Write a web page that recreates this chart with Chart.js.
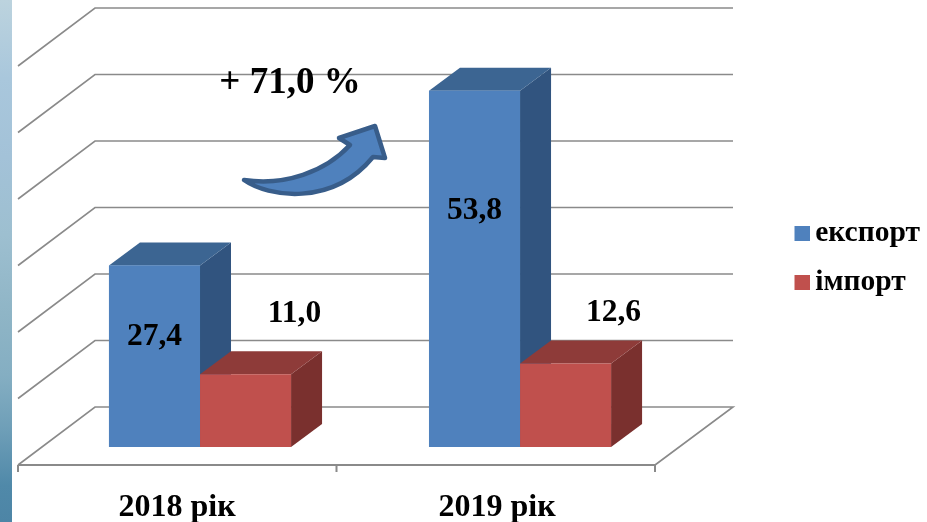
<!DOCTYPE html>
<html lang="uk">
<head>
<meta charset="utf-8">
<title>Експорт та імпорт</title>
<script src="https://cdn.jsdelivr.net/npm/chart.js@4"></script>
<style>
html,body{margin:0;padding:0;background:#fff;width:927px;height:522px;overflow:hidden}
#strip{position:absolute;left:0;top:0;width:12px;height:522px;background:linear-gradient(180deg,#bcd3de 0%,#a9c7dc 15%,#a3c2d8 30%,#9dbfd0 45%,#8fb5c6 60%,#84aec2 72%,#6f9fb8 82%,#5089a9 93%,#4d85a6 100%)}
#wrap{position:absolute;left:0;top:0;width:927px;height:522px}
</style>
</head>
<body>
<div id="strip"></div>
<div id="wrap"><canvas id="c" width="927" height="522"></canvas></div>
<script>
const categories = ['2018 рік', '2019 рік'];
const exportValues = [27.4, 53.8];
const importValues = [11.0, 12.6];
const seriesNames = ['експорт', 'імпорт'];
const gridValues = [0, 10, 20, 30, 40, 50, 60];
const changeLabel = '+ 71,0 %';

const serif = '"Liberation Serif","Times New Roman",serif';
const fmt = v => v.toFixed(1).replace('.', ',');
const depth = { x: 31, y: -23 };
const wall = { backDy: -40, frontDy: 18, frontLeft: 18, frontRight: 655, backLeft: 95, backRight: 733 };
const faces = [
  { front: '#4F81BD', top: '#3C6592', side: '#31547F' },
  { front: '#C0504D', top: '#8E3B39', side: '#7A302E' }
];
const labelOffsets = [
  [{ dx: 0, dy: 71 }, { dx: 0, dy: 120 }],
  [{ dx: 49, dy: -60 }, { dx: 48, dy: -50.5 }]
];

function swatch(color) {
  const cv = document.createElement('canvas');
  cv.width = 19; cv.height = 15;
  const g = cv.getContext('2d');
  g.fillStyle = color;
  g.fillRect(4, 0, 15, 15);
  return cv;
}

const scene3d = {
  id: 'scene3d',
  afterLayout(chart) {
    const l = chart.legend;
    const w = l.right - l.left;
    l.left = 780; l.right = 780 + w;
    l.top -= 27.5; l.bottom -= 27.5;
  },
  beforeDatasetsDraw(chart) {
    const ctx = chart.ctx, y = chart.scales.g;
    ctx.save();
    ctx.strokeStyle = '#8A8A8A';
    ctx.lineWidth = 1.6;
    gridValues.forEach(v => {
      const p = y.getPixelForValue(v);
      ctx.beginPath();
      ctx.moveTo(wall.frontLeft, p + wall.frontDy);
      ctx.lineTo(wall.backLeft, p + wall.backDy);
      ctx.lineTo(wall.backRight, p + wall.backDy);
      if (v === 0) ctx.lineTo(wall.frontRight, p + wall.frontDy);
      ctx.stroke();
    });
    const floorY = y.getPixelForValue(0) + wall.frontDy;
    ctx.lineWidth = 2;
    ctx.beginPath();
    ctx.moveTo(wall.frontLeft, floorY);
    ctx.lineTo(wall.frontRight, floorY);
    [wall.frontLeft, (wall.frontLeft + wall.frontRight) / 2, wall.frontRight].forEach(x => {
      ctx.moveTo(x, floorY);
      ctx.lineTo(x, floorY + 7);
    });
    ctx.stroke();

    chart.data.datasets.forEach((ds, di) => {
      chart.getDatasetMeta(di).data.forEach(bar => {
        const left = bar.x - bar.width / 2, right = bar.x + bar.width / 2;
        ctx.fillStyle = faces[di].side;
        ctx.beginPath();
        ctx.moveTo(right, bar.y);
        ctx.lineTo(right + depth.x, bar.y + depth.y);
        ctx.lineTo(right + depth.x, bar.base + depth.y);
        ctx.lineTo(right, bar.base);
        ctx.closePath();
        ctx.fill();
        ctx.fillStyle = faces[di].top;
        ctx.beginPath();
        ctx.moveTo(left, bar.y);
        ctx.lineTo(left + depth.x, bar.y + depth.y);
        ctx.lineTo(right + depth.x, bar.y + depth.y);
        ctx.lineTo(right, bar.y);
        ctx.closePath();
        ctx.fill();
        if (di === 0) {
          ctx.fillStyle = faces[di].front;
          ctx.fillRect(left, bar.y, bar.width, bar.base - bar.y);
        }
      });
    });
    ctx.restore();
  },
  afterDatasetsDraw(chart) {
    const ctx = chart.ctx;
    ctx.save();
    ctx.fillStyle = '#000';
    ctx.textAlign = 'center';
    ctx.textBaseline = 'middle';
    ctx.font = 'bold 31.5px ' + serif;
    chart.data.datasets.forEach((ds, di) => {
      chart.getDatasetMeta(di).data.forEach((bar, i) => {
        const o = labelOffsets[di][i];
        ctx.fillText(fmt(ds.data[i]), bar.x + o.dx, bar.y + o.dy);
      });
    });
    ctx.font = 'bold 37px ' + serif;
    ctx.fillText(changeLabel, 290, 83);

    ctx.beginPath();
    ctx.moveTo(244, 180);
    ctx.bezierCurveTo(268, 197, 332, 207, 373, 157);
    ctx.lineTo(385, 158);
    ctx.lineTo(375, 126);
    ctx.lineTo(339, 138);
    ctx.lineTo(350, 145);
    ctx.bezierCurveTo(325, 172, 285, 186, 244, 180);
    ctx.closePath();
    ctx.fillStyle = '#4F81BD';
    ctx.fill();
    ctx.strokeStyle = '#385D8A';
    ctx.lineWidth = 4.5;
    ctx.lineJoin = 'round';
    ctx.stroke();
    ctx.restore();
  }
};

new Chart(document.getElementById('c'), {
  type: 'bar',
  data: {
    labels: categories,
    datasets: [
      { label: seriesNames[0], data: exportValues, backgroundColor: faces[0].front, pointStyle: swatch(faces[0].front), borderWidth: 0 },
      { label: seriesNames[1], data: importValues, backgroundColor: faces[1].front, pointStyle: swatch(faces[1].front), borderWidth: 0 }
    ]
  },
  plugins: [scene3d],
  options: {
    responsive: false,
    animation: false,
    devicePixelRatio: 1,
    layout: { padding: { left: 40, right: 97, top: 48, bottom: 0 } },
    datasets: { bar: { categoryPercentage: 0.569, barPercentage: 1 } },
    scales: {
      x: {
        afterFit(s) { s.height = 75; },
        grid: { display: false },
        border: { display: false },
        ticks: {
          padding: 37,
          labelOffset: -23,
          maxRotation: 0,
          color: '#000',
          font: { family: serif, weight: 'bold', size: 32, lineHeight: 1 }
        }
      },
      y: { axis: 'y', display: false, min: 0, max: 60.27 },
      g: { axis: 'y', display: false, min: 0, max: 60 }
    },
    plugins: {
      tooltip: { enabled: false },
      title: { display: false },
      legend: {
        position: 'right',
        labels: {
          usePointStyle: true,
          pointStyleWidth: 1,
          boxHeight: 15,
          padding: 19.5,
          color: '#000',
          font: { family: serif, weight: 'bold', size: 29.5 }
        }
      }
    }
  }
});
</script>
</body>
</html>
